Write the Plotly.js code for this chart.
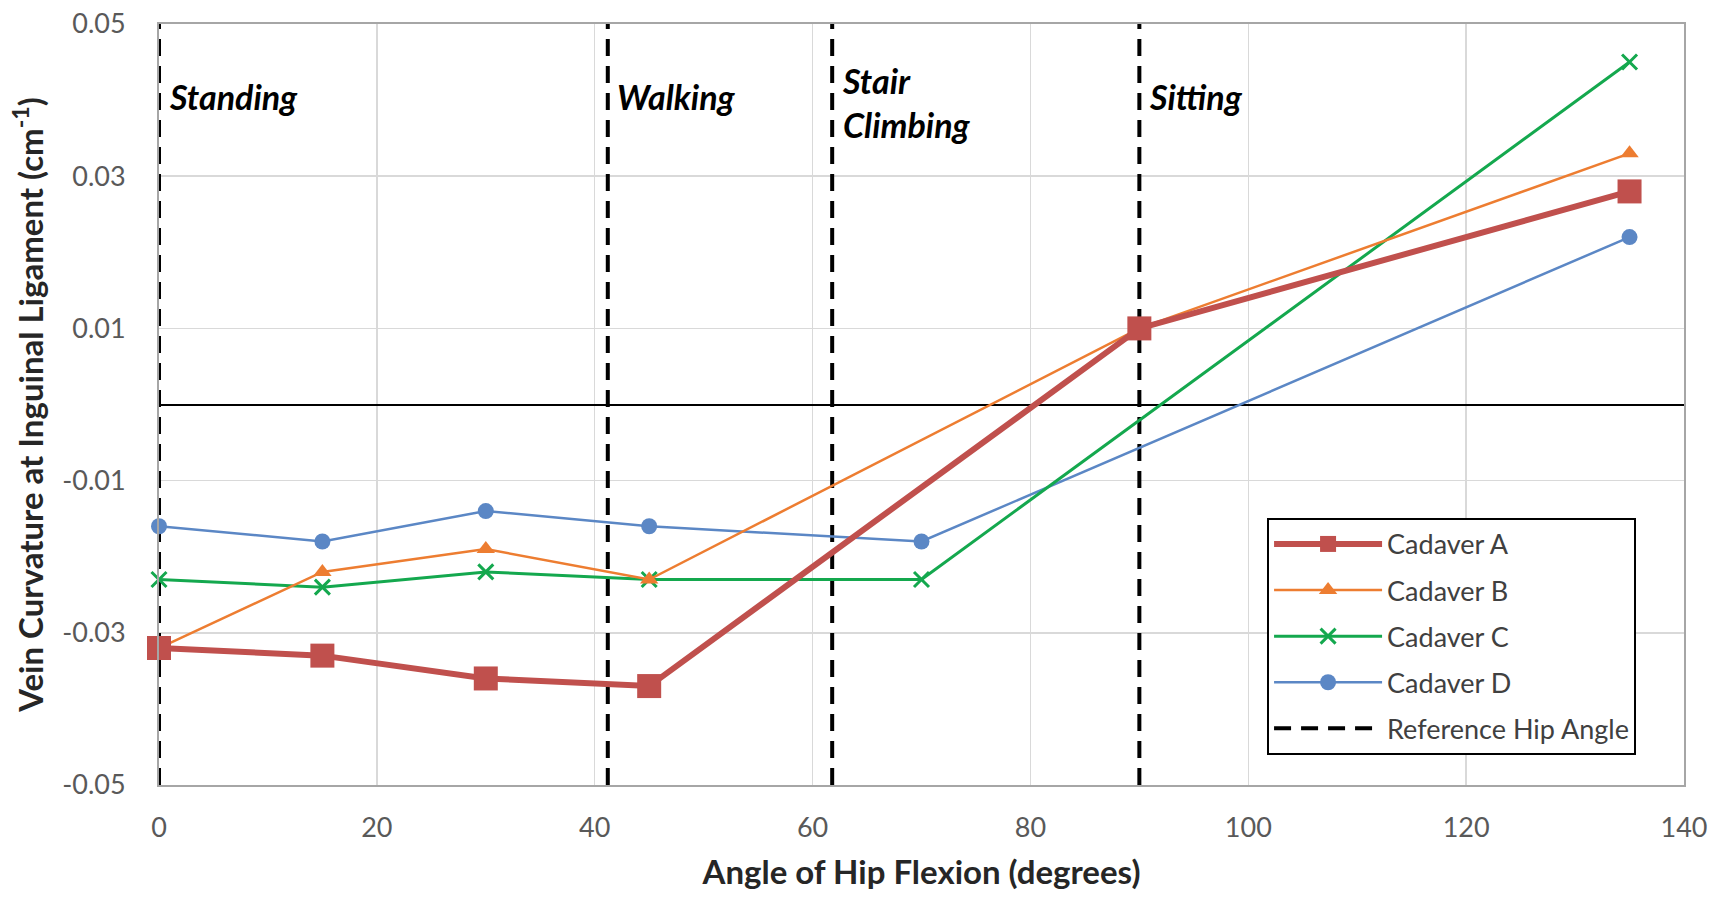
<!DOCTYPE html>
<html>
<head>
<meta charset="utf-8">
<script src="https://cdn.plot.ly/plotly-3.0.1.min.js"></script>
<style>html,body{margin:0;padding:0;background:#fff;}#chart{width:1715px;height:898px;}</style>
</head>
<body>
<div id="chart"></div>
<script>
const angles = [0, 15, 30, 45, 70, 90, 135];
const cadaverA = [-0.032, -0.033, -0.036, -0.037, null, 0.010, 0.028];
const cadaverB = [-0.032, -0.022, -0.019, -0.023, null, 0.010, 0.033];
const cadaverC = [-0.023, -0.024, -0.022, -0.023, -0.023, null, 0.045];
const cadaverD = [-0.016, -0.018, -0.014, -0.016, -0.018, null, 0.022];
const refAngles = [0, 41.2, 61.8, 90];
const refLabels = ["Standing", "Walking", "Stair<br>Climbing", "Sitting"];
const yTicks = [-0.05, -0.03, -0.01, 0.01, 0.03, 0.05];
const yRange = [-0.05, 0.05];

const fontFam = "Lato, 'Open Sans', sans-serif";

function series(name, y, color, width, symbol, msize, group) {
  return {
    x: angles, y: y, name: name, type: 'scatter', mode: 'lines+markers',
    connectgaps: true, legendgroup: group,
    line: {color: color, width: width},
    marker: {symbol: symbol, size: msize, color: color, line: {color: color, width: symbol === 'x-thin' ? 3 : 0}},
    cliponaxis: false
  };
}

const refX = [], refY = [];
refAngles.forEach(a => { refX.push(a, a, null); refY.push(yRange[0], yRange[1], null); });

const traces = [
  {x: refX, y: refY, name: 'Reference Hip Angle', type: 'scatter', mode: 'lines', legendgroup: 'e',
   line: {color: '#000000', width: 4, dash: '17px,10px'}, showlegend: true, legendrank: 5},
  Object.assign(series('Cadaver D', cadaverD, '#5B87C5', 2.5, 'circle', 16, 'd'), {legendrank: 4}),
  Object.assign(series('Cadaver C', cadaverC, '#14A84E', 3, 'x-thin', 15, 'c'), {legendrank: 3}),
  Object.assign(series('Cadaver B', cadaverB, '#ED7D31', 2.5, 'triangle-up', 16, 'b'), {legendrank: 2}),
  Object.assign(series('Cadaver A', cadaverA, '#C0504D', 6, 'square', 24, 'a'), {legendrank: 1})
];

const annotations = refAngles.map((a, i) => ({
  x: a + 0.7, y: i === 2 ? 0.0455 : 0.0434, xref: 'x', yref: 'y',
  text: '<b><i>' + refLabels[i] + '</i></b>', showarrow: false,
  xanchor: 'left', yanchor: 'top', align: 'left',
  font: {family: fontFam, size: 34, color: '#000'}
}));

const layout = {
  width: 1715, height: 898,
  margin: {l: 159, r: 31, t: 24, b: 113},
  paper_bgcolor: '#fff', plot_bgcolor: '#fff',
  font: {family: fontFam, color: '#595959'},
  showlegend: true,
  legend: {
    x: 0.7266, y: 0.351, xanchor: 'left', yanchor: 'top',
    bordercolor: '#000', borderwidth: 2, bgcolor: '#fff',
    font: {family: fontFam, size: 27, color: '#404040'},
    traceorder: 'grouped', tracegroupgap: 8, itemwidth: 108
  },
  xaxis: {
    range: [0, 140], dtick: 20, tick0: 0,
    showgrid: true, gridcolor: '#d9d9d9', gridwidth: 1.5,
    showline: true, linecolor: '#a6a6a6', linewidth: 2, mirror: true,
    zeroline: false,
    ticks: 'outside', ticklen: 18, tickcolor: 'rgba(0,0,0,0)',
    tickfont: {family: fontFam, size: 27, color: '#595959'},
    title: {text: '<b>Angle of Hip Flexion (degrees)</b>', font: {family: fontFam, size: 33, color: '#262626'}, standoff: 18}
  },
  yaxis: {
    range: yRange, tickvals: yTicks, ticktext: yTicks.map(v => v.toFixed(2)),
    showgrid: true, gridcolor: '#d9d9d9', gridwidth: 1.5,
    showline: true, linecolor: '#a6a6a6', linewidth: 2, mirror: true,
    zeroline: true, zerolinecolor: '#000', zerolinewidth: 2,
    ticks: 'outside', ticklen: 26, tickcolor: 'rgba(0,0,0,0)',
    tickfont: {family: fontFam, size: 27, color: '#595959'},
    title: {text: '<b>Vein Curvature at Inguinal Ligament (cm<sup>-1</sup>)</b>', font: {family: fontFam, size: 33, color: '#262626'}, standoff: 9}
  },
  annotations: annotations
};

Plotly.newPlot('chart', traces, layout, {displayModeBar: false, staticPlot: true});
</script>
</body>
</html>
